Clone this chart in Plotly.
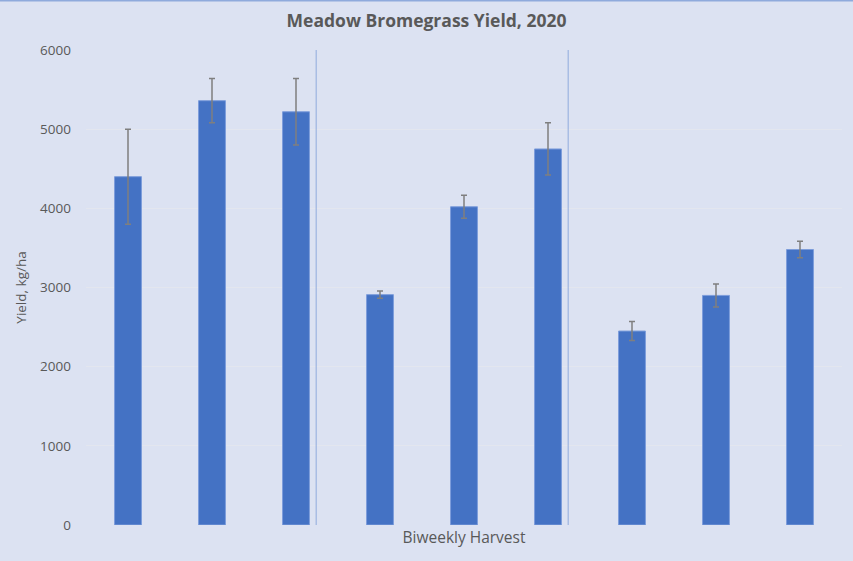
import plotly.graph_objects as go

# --- THEME ---
BACKGROUND_COLOR = "#dce2f2"
BAR_COLOR = "#4472c4"
BAR_EDGE = "#7d9ddb"
ERROR_COLOR = "#7f7f7f"
TEXT_COLOR = "#595959"
SEP_COLOR = "#8faadc"

# --- DATA ---
harvests = ["1", "2", "3", "4", "5", "6", "7", "8", "9"]
yield_kg_ha = [4400, 5360, 5220, 2910, 4020, 4750, 2450, 2900, 3480]
yield_err = [600, 280, 420, 45, 145, 330, 120, 145, 105]
group_breaks = [2.24, 5.24]

fig = go.Figure()

fig.add_trace(
    go.Bar(
        x=list(range(len(harvests))),
        y=yield_kg_ha,
        width=0.32,
        marker=dict(color=BAR_COLOR, line=dict(color=BAR_EDGE, width=1)),
        error_y=dict(type="data", array=yield_err, color=ERROR_COLOR,
                     thickness=1.5, width=3),
        hoverinfo="y",
    )
)

for xb in group_breaks:
    fig.add_shape(type="line", x0=xb, x1=xb, y0=0, y1=6000,
                  xref="x", yref="y", line=dict(color=SEP_COLOR, width=1))

# top border line of the chart area (outside the plot area)
fig.add_shape(type="line", x0=-0.12, x1=1.02, y0=1.104, y1=1.104,
              xref="paper", yref="paper",
              line=dict(color=SEP_COLOR, width=2))

fig.update_layout(
    width=853,
    height=561,
    paper_bgcolor=BACKGROUND_COLOR,
    plot_bgcolor=BACKGROUND_COLOR,
    font=dict(family="Open Sans, Liberation Sans, sans-serif", color=TEXT_COLOR, size=13),
    title=dict(text="<b>Meadow Bromegrass Yield, 2020</b>", x=0.5, xanchor="center",
               y=0.963, yanchor="middle", font=dict(size=17.5, color=TEXT_COLOR)),
    margin=dict(l=86, r=11, t=50, b=36),
    showlegend=False,
    bargap=0.68,
)

fig.update_xaxes(
    range=[-0.5, 8.5],
    showticklabels=False,
    showgrid=False,
    zeroline=False,
    title=dict(text="Biweekly Harvest", standoff=7, font=dict(size=15.5, color=TEXT_COLOR)),
)

fig.update_yaxes(
    range=[0, 6000],
    tickvals=[0, 1000, 2000, 3000, 4000, 5000, 6000],
    showgrid=True,
    gridcolor="#e3e6ef",
    gridwidth=1,
    zeroline=False,
    ticklabelstandoff=14,
    tickfont=dict(size=13.5, color=TEXT_COLOR),
    title=dict(text="Yield, kg/ha", standoff=10, font=dict(size=13.5, color=TEXT_COLOR)),
)

fig.write_html("out.html", config={"displayModeBar": False},
               post_script="document.body.style.margin='0px';")
